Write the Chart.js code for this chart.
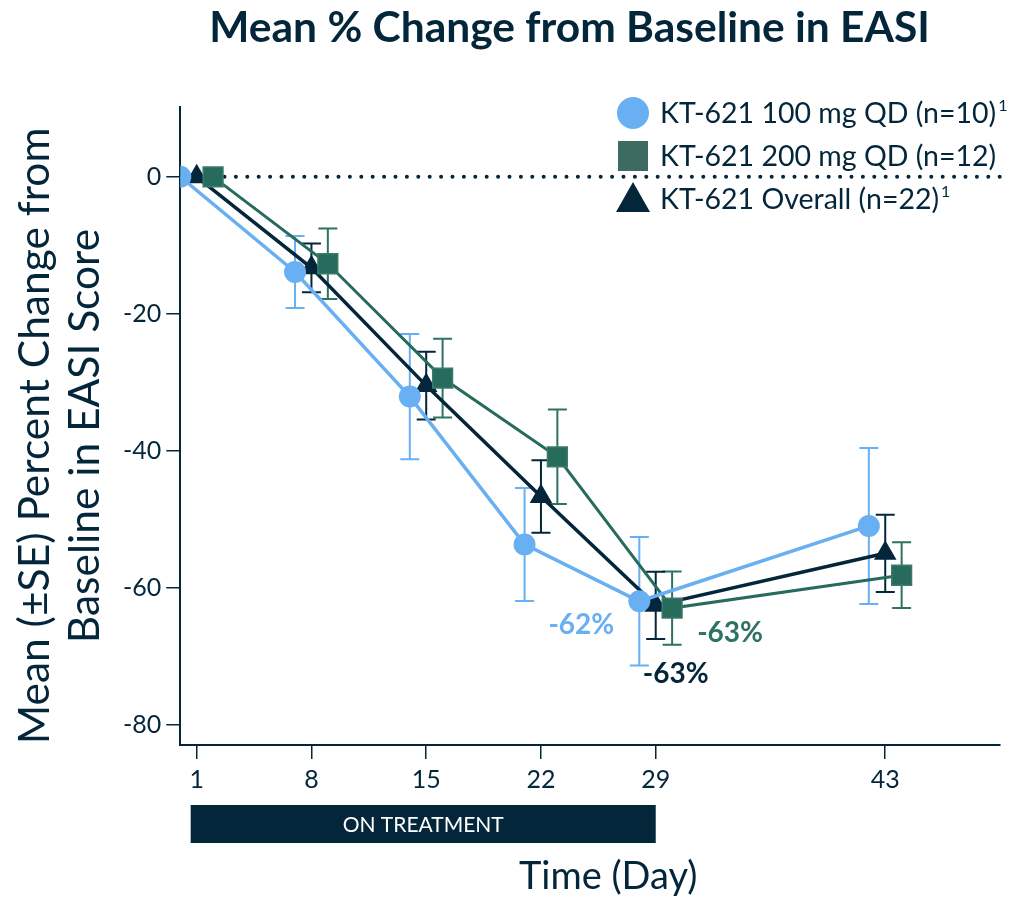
<!DOCTYPE html>
<html>
<head>
<meta charset="utf-8">
<script src="https://cdn.jsdelivr.net/npm/chart.js@4.4.0/dist/chart.umd.min.js"></script>
<style>
  html, body { margin: 0; padding: 0; background: #fff; }
  #wrap { width: 1018px; height: 897px; }
</style>
</head>
<body>
<div id="wrap"><canvas id="chart"></canvas></div>
<script>
// study days and mean % change (+/- SE) per group
var days = [1, 8, 15, 22, 29, 43]
var mean100 = [0, -13.9, -32.1, -53.7, -62.0, -51.0]
var se100 = [0, 5.25, 9.15, 8.25, 9.4, 11.4]
var mean200 = [0, -12.7, -29.4, -40.9, -63.0, -58.2]
var se200 = [0, 5.15, 5.75, 6.9, 5.35, 4.8]
var meanAll = [0, -13.3, -30.5, -46.7, -62.6, -55.0]
var seAll = [0, 3.55, 4.95, 5.3, 4.9, 5.65]
var groupNames = ['KT-621 100 mg QD (n=10)', 'KT-621 200 mg QD (n=12)', 'KT-621 Overall (n=22)']
var groupNotes = ['1', '', '1']
var yTicks = [0, -20, -40, -60, -80]
var treatmentDays = [1, 29]
var yTitle = ['Mean (\u00B1SE) Percent Change from', 'Baseline in EASI Score']

var navy = '#03263A'
var blue = '#68B0F2'
var green = '#266B5B'

function pts(means, dodge) {
    return days.map(function (d, i) {
        return { x: d + dodge, y: means[i] }
    })
}

var extras = {
    id: 'extras',
    beforeDatasetsDraw: function (chart) {
        var ctx = chart.ctx
        var xs = chart.scales.x
        var ys = chart.scales.y
        var area = chart.chartArea
        var y0 = ys.getPixelForValue(0)
        ctx.save()
        ctx.strokeStyle = navy
        ctx.lineWidth = 4
        ctx.lineCap = 'round'
        ctx.setLineDash([0, 11.4])
        ctx.beginPath()
        ctx.moveTo(area.left + 10, y0)
        ctx.lineTo(area.right, y0)
        ctx.stroke()
        ctx.restore()

        // error bars
        chart.data.datasets.forEach(function (ds) {
            ds.data.forEach(function (p, i) {
                var se = ds.se[i]
                if (!se) return
                var x = xs.getPixelForValue(p.x)
                var t = ys.getPixelForValue(p.y + se)
                var b = ys.getPixelForValue(p.y - se)
                ctx.save()
                ctx.strokeStyle = ds.barColor
                ctx.lineWidth = 2
                ctx.beginPath()
                ctx.moveTo(x, t); ctx.lineTo(x, b)
                ctx.moveTo(x - 9.5, t); ctx.lineTo(x + 9.5, t)
                ctx.moveTo(x - 9.5, b); ctx.lineTo(x + 9.5, b)
                ctx.stroke()
                ctx.restore()
            })
        })
    },
    afterDraw: function (chart) {
        var ctx = chart.ctx
        var xs = chart.scales.x
        var ys = chart.scales.y
        var area = chart.chartArea
        var sets = chart.data.datasets
        var midX = area.left + (area.right - area.left) * 0.475

        // titles
        ctx.save()
        ctx.fillStyle = navy
        ctx.textAlign = 'center'
        ctx.textBaseline = 'middle'
        ctx.font = 'bold 42.5px Lato'
        ctx.fillText('Mean % Change from Baseline in EASI', midX, 28)
        ctx.font = '38px Lato'
        ctx.fillText('Time (Day)', area.left + (area.right - area.left) * 0.522, area.bottom + 132)
        ctx.restore()

        // y title, two lines rotated
        var midY = (area.top + area.bottom) / 2 + 10
        yTitle.forEach(function (line, i) {
            ctx.save()
            ctx.translate(area.left - 131 + i * 50, midY)
            ctx.rotate(-Math.PI / 2)
            ctx.fillStyle = navy
            ctx.font = '42.5px Lato'
            ctx.textAlign = 'center'
            ctx.textBaseline = 'alphabetic'
            ctx.fillText(line, 0, 0)
            ctx.restore()
        })

        // labels at day 29
        var offs = [[-58, 24], [58, 25], [20, 69]]
        sets.forEach(function (ds, k) {
            var p = ds.data[4]
            var x = xs.getPixelForValue(p.x) + offs[k][0]
            var y = ys.getPixelForValue(p.y) + offs[k][1]
            ctx.save()
            ctx.fillStyle = ds.labelColor
            ctx.font = 'bold 28px Lato'
            ctx.textAlign = 'center'
            ctx.textBaseline = 'middle'
            ctx.fillText(Math.round(p.y) + '%', x, y)
            ctx.restore()
        })

        // legend
        var lx = area.right - 367
        var ly = area.top + 6
        sets.forEach(function (ds, row) {
            var cy = ly + row * 43
            ctx.save()
            ctx.fillStyle = ds.legendColor
            ctx.beginPath()
            if (ds.pointStyle === 'circle') {
                ctx.arc(lx, cy, 16, 0, Math.PI * 2)
            } else if (ds.pointStyle === 'rect') {
                ctx.rect(lx - 15, cy - 15, 30, 30)
            } else {
                ctx.moveTo(lx, cy - 17)
                ctx.lineTo(lx + 17, cy + 13)
                ctx.lineTo(lx - 17, cy + 13)
                ctx.closePath()
            }
            ctx.fill()
            ctx.fillStyle = navy
            ctx.font = '28.5px Lato'
            ctx.textBaseline = 'middle'
            ctx.fillText(ds.label, lx + 27, cy + 1)
            if (groupNotes[row]) {
                var w = ctx.measureText(ds.label).width
                ctx.font = '16px Lato'
                ctx.fillText(groupNotes[row], lx + 29 + w, cy - 7)
            }
            ctx.restore()
        })

        // on treatment bar
        var bx0 = xs.getPixelForValue(treatmentDays[0]) - 6
        var bx1 = xs.getPixelForValue(treatmentDays[1])
        var by = area.bottom + 60
        ctx.save()
        ctx.fillStyle = navy
        ctx.fillRect(bx0, by, bx1 - bx0, 38)
        ctx.fillStyle = '#fff'
        ctx.font = '21px Lato'
        ctx.textAlign = 'center'
        ctx.textBaseline = 'middle'
        ctx.fillText('ON TREATMENT', (bx0 + bx1) / 2, by + 20)
        ctx.restore()
    }
}

var ctx = document.getElementById('chart').getContext('2d')
var myChart = new Chart(ctx, {
    type: 'line',
    data: {
        datasets: [{
            label: groupNames[0],
            data: pts(mean100, -1),
            se: se100,
            borderColor: blue,
            backgroundColor: blue,
            barColor: blue,
            labelColor: blue,
            legendColor: blue,
            borderWidth: 3.5,
            pointStyle: 'circle',
            pointRadius: 11,
            pointBorderWidth: 0
        }, {
            label: groupNames[1],
            data: pts(mean200, 1),
            se: se200,
            borderColor: green,
            backgroundColor: green,
            pointBorderColor: '#3C7A6B',
            barColor: '#2E7262',
            labelColor: '#2E7262',
            legendColor: '#3E6B61',
            borderWidth: 3,
            pointStyle: 'rect',
            pointRadius: 14,
            pointBorderWidth: 1.5
        }, {
            label: groupNames[2],
            data: pts(meanAll, 0),
            se: seAll,
            borderColor: navy,
            backgroundColor: navy,
            barColor: navy,
            labelColor: navy,
            legendColor: navy,
            borderWidth: 3.5,
            pointStyle: 'triangle',
            pointRadius: 13,
            pointBorderWidth: 0
        }]
    },
    options: {
        responsive: true,
        maintainAspectRatio: false,
        animation: false,
        layout: { padding: { left: 118, right: 18, top: 107, bottom: 96 } },
        plugins: {
            legend: { display: false },
            tooltip: { enabled: false },
            title: { display: false }
        },
        scales: {
            x: {
                type: 'linear',
                min: 0,
                max: 50,
                afterBuildTicks: function (s) {
                    s.ticks = days.map(function (v) { return { value: v } })
                },
                grid: { drawOnChartArea: false, drawTicks: true, tickLength: 14, color: navy, lineWidth: 1.5 },
                border: { color: navy, width: 2 },
                ticks: { color: navy, font: { family: 'Lato', size: 25 }, padding: 6, maxRotation: 0 }
            },
            y: {
                min: -83,
                max: 10.2,
                afterBuildTicks: function (s) {
                    s.ticks = yTicks.map(function (v) { return { value: v } })
                },
                grid: { drawOnChartArea: false, drawTicks: true, tickLength: 14, color: navy, lineWidth: 1.5 },
                border: { color: navy, width: 2 },
                ticks: { color: navy, font: { family: 'Lato', size: 25 }, padding: 5 }
            }
        }
    },
    plugins: [extras]
})
</script>
</body>
</html>
